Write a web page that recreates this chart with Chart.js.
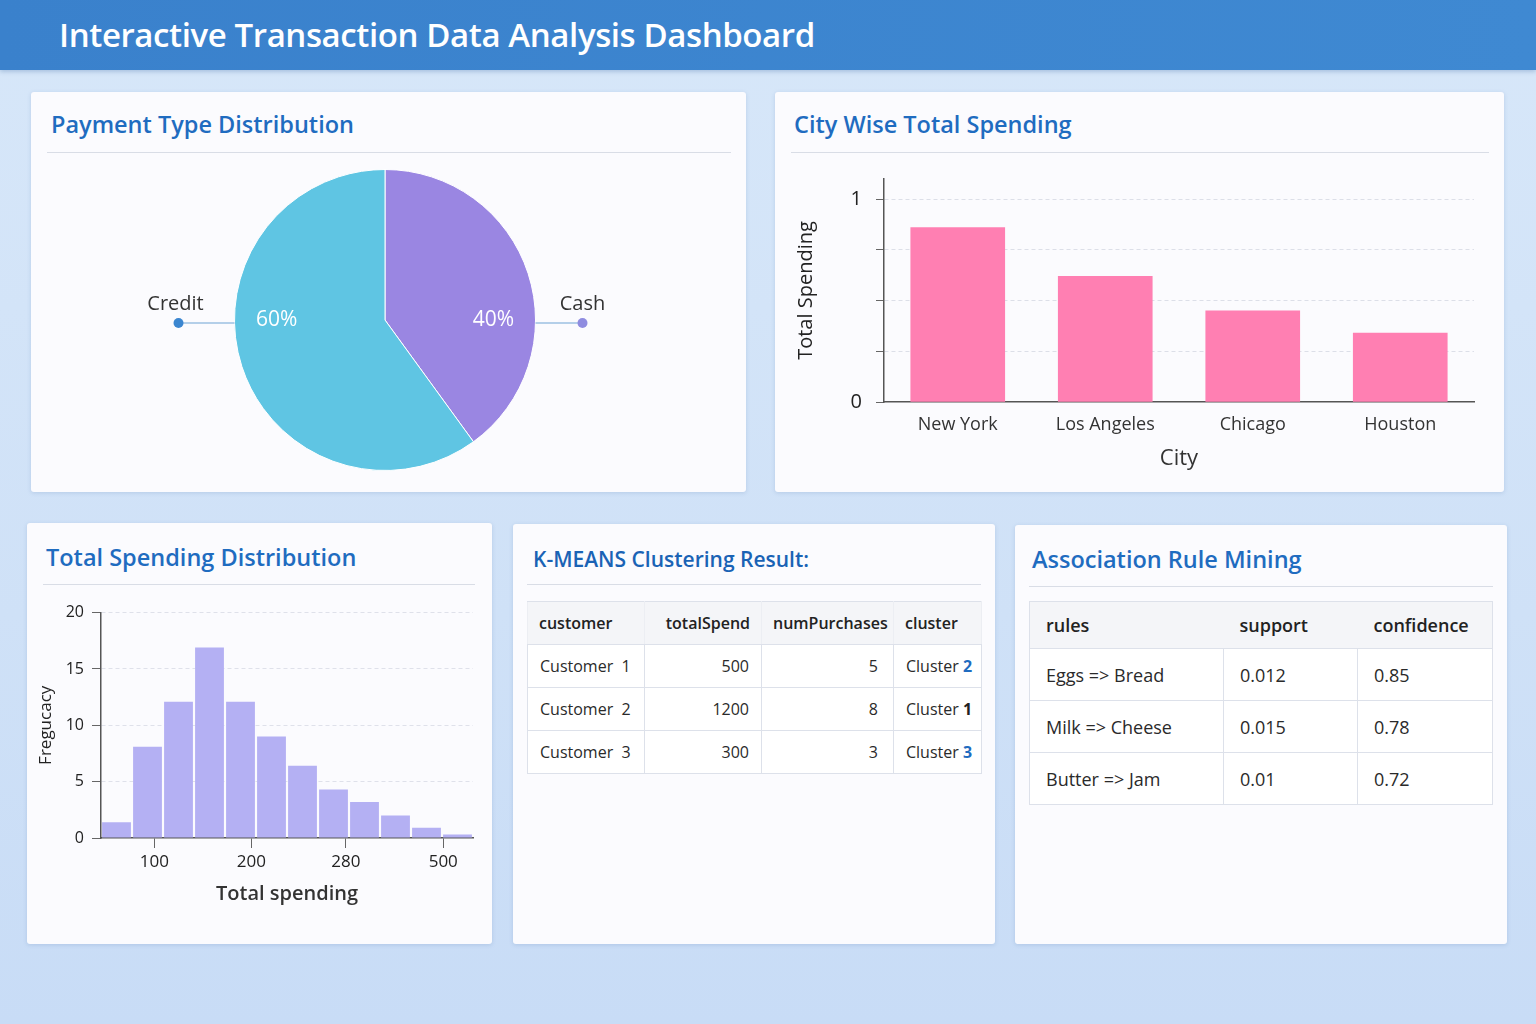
<!DOCTYPE html>
<html lang="en">
<head>
  <meta charset="UTF-8" />
  <title>Interactive Transaction Data Analysis Dashboard</title>
  <script src="https://cdn.jsdelivr.net/npm/chart.js"></script>
  <style>
    body {
      font-family: 'Open Sans', sans-serif;
      margin: 0;
      width: 1536px;
      height: 1024px;
      overflow: hidden;
      position: relative;
      background: linear-gradient(180deg, #d7e7f9 0%, #cfe1f7 60%, #c8dcf6 100%);
    }
    header {
      position: absolute;
      left: 0; top: 0;
      width: 1536px; height: 70px;
      background: linear-gradient(90deg, #3a81cc, #3f89d2);
      box-shadow: 0 2px 4px rgba(40,90,150,0.25);
    }
    header h1 {
      margin: 0;
      position: absolute;
      left: 59px; top: 12px;
      font-size: 33px;
      font-weight: 600;
      color: #fff;
      letter-spacing: -0.4px;
    }
    .card {
      position: absolute;
      background: #fbfbfe;
      border-radius: 3px;
      box-shadow: 0 1px 4px rgba(60,100,160,0.18);
    }
    .card h3 {
      position: absolute;
      margin: 0;
      font-size: 23.5px;
      font-weight: 600;
      color: #1f6cc0;
    }
    .card .rule {
      position: absolute;
      height: 1px;
      background: #d9dde6;
    }
    .card canvas { position: absolute; }
    table {
      position: absolute;
      border-collapse: collapse;
      table-layout: fixed;
      background: #fff;
      color: #2a2a2a;
      white-space: nowrap;
    }
    table, th, td { border: 1.5px solid #dde1ea; }
    th { background: #f4f5f8; font-weight: 600; color: #222; }
    #kmeans { font-size: 16px; }
    #kmeans th { height: 42px; padding: 0 11px; }
    #kmeans td { height: 42px; padding: 0 12px; }
    #kmeans th { border-left-color: #eceef3; border-right-color: #eceef3; }
    #rules { font-size: 18px; }
    #rules th { height: 46px; padding: 0 16px; text-align: left; border-left: none; border-right: none; }
    #rules td { height: 51px; padding: 0 16px; }
    .num { text-align: right; }
    .c2, .c3 { color: #1f6cc0; font-weight: 700; }
    .c1 { color: #222; font-weight: 700; }
  </style>
</head>
<body>

<header>
  <h1>Interactive Transaction Data Analysis Dashboard</h1>
</header>

<!-- Payment type -->
<div class="card" style="left:31px; top:92px; width:715px; height:400px;">
  <h3 style="left:20px; top:16px;">Payment Type Distribution</h3>
  <div class="rule" style="left:16px; top:60px; width:684px;"></div>
  <canvas id="payChart" width="708" height="320" style="left:0; top:68px;"></canvas>
</div>

<!-- City spending -->
<div class="card" style="left:775px; top:92px; width:729px; height:400px;">
  <h3 style="left:19px; top:16px;">City Wise Total Spending</h3>
  <div class="rule" style="left:16px; top:60px; width:698px;"></div>
  <canvas id="cityChart" width="700" height="327" style="left:15px; top:61px;"></canvas>
</div>

<!-- Histogram -->
<div class="card" style="left:27px; top:523px; width:465px; height:421px;">
  <h3 style="left:19px; top:18px;">Total Spending Distribution</h3>
  <div class="rule" style="left:16px; top:61px; width:432px;"></div>
  <canvas id="histChart" width="455" height="313" style="left:3px; top:72px;"></canvas>
</div>

<!-- K-means -->
<div class="card" style="left:513px; top:524px; width:482px; height:420px;">
  <h3 style="left:20px; top:21px; font-size:21px; color:#1a63b5;">K-MEANS Clustering Result:</h3>
  <div class="rule" style="left:14px; top:60px; width:454px;"></div>
</div>
<table id="kmeans" style="left:527px; top:601px; width:454px;">
  <colgroup><col style="width:117px"><col style="width:117px"><col style="width:132px"><col style="width:88px"></colgroup>
  <thead></thead>
  <tbody></tbody>
</table>

<!-- Association rules -->
<div class="card" style="left:1015px; top:525px; width:492px; height:419px;">
  <h3 style="left:17px; top:18px;">Association Rule Mining</h3>
  <div class="rule" style="left:14px; top:61px; width:464px;"></div>
</div>
<table id="rules" style="left:1029px; top:601px; width:463px;">
  <colgroup><col style="width:194px"><col style="width:134px"><col style="width:135px"></colgroup>
  <thead></thead>
  <tbody></tbody>
</table>

<script>
  // ---- data ----
  const payTypes = ['Cash', 'Credit'];
  const payShare = [40, 60];
  const payColors = ['#9a86e2', '#5fc5e3'];
  const payDots = ['#8f8ce0', '#3b86d0'];

  const cities = ['New York', 'Los Angeles', 'Chicago', 'Houston'];
  const citySpend = [0.86, 0.62, 0.45, 0.34];
  const cityTicks = [0, 0.25, 0.5, 0.75, 1];

  const binCenters = [0.5, 1.5, 2.5, 3.5, 4.5, 5.5, 6.5, 7.5, 8.5, 9.5, 10.5, 11.5];
  const binFreq = [1.4, 8.1, 12.1, 16.9, 12.1, 9.0, 6.4, 4.3, 3.2, 2.0, 0.9, 0.3];
  const histTickPos = [1.72, 4.85, 7.9, 11.04];
  const histTickLabels = ['100', '200', '280', '500'];

  const kmHeaders = ['customer', 'totalSpend', 'numPurchases', 'cluster'];
  const kmCustomers = ['Customer\u00a0 1', 'Customer\u00a0 2', 'Customer\u00a0 3'];
  const kmSpend = [500, 1200, 300];
  const kmPurchases = [5, 8, 3];
  const kmCluster = [2, 1, 3];

  const ruleHeaders = ['rules', 'support', 'confidence'];
  const ruleNames = ['Eggs => Bread', 'Milk => Cheese', 'Butter => Jam'];
  const ruleSupport = ['0.012', '0.015', '0.01'];
  const ruleConfidence = ['0.85', '0.78', '0.72'];

  Chart.defaults.font.family = "'Open Sans', sans-serif";
  Chart.defaults.color = '#333';
  Chart.defaults.animation = false;

  // ---- pie ----
  const pieLabels = {
    id: 'pieLabels',
    afterDatasetsDraw(chart) {
      const ctx = chart.ctx;
      const total = payShare.reduce((a, b) => a + b, 0);
      chart.getDatasetMeta(0).data.forEach((arc, i) => {
        const mid = (arc.startAngle + arc.endAngle) / 2;
        const side = Math.cos(mid) >= 0 ? 1 : -1;
        const r = arc.outerRadius;
        ctx.save();
        ctx.textAlign = 'center';
        ctx.textBaseline = 'middle';
        ctx.fillStyle = '#fff';
        ctx.font = "21px 'Open Sans'";
        ctx.fillText(Math.round(payShare[i] / total * 100) + '%', arc.x + side * r * 0.72, arc.y);
        const dotX = arc.x + side * (r + (side < 0 ? 56 : 47));
        const lineY = arc.y + 3;
        ctx.strokeStyle = '#9cc0e2';
        ctx.lineWidth = 1.5;
        ctx.beginPath();
        ctx.moveTo(arc.x + side * r, lineY);
        ctx.lineTo(dotX, lineY);
        ctx.stroke();
        ctx.fillStyle = payDots[i];
        ctx.beginPath();
        ctx.arc(dotX, lineY, 5, 0, Math.PI * 2);
        ctx.fill();
        ctx.fillStyle = '#333';
        ctx.font = "20px 'Open Sans'";
        ctx.fillText(payTypes[i], dotX + (side < 0 ? -3 : 0), arc.y - 16);
        ctx.restore();
      });
    }
  };

  new Chart(document.getElementById('payChart'), {
    type: 'pie',
    data: {
      labels: payTypes,
      datasets: [{
        data: payShare,
        backgroundColor: payColors,
        borderColor: '#ffffff',
        borderWidth: 1
      }]
    },
    options: {
      responsive: false,
      layout: { padding: 9 },
      plugins: { legend: { display: false }, tooltip: { enabled: false } }
    },
    plugins: [pieLabels]
  });

  // ---- city bars ----
  new Chart(document.getElementById('cityChart'), {
    type: 'bar',
    data: {
      labels: cities,
      datasets: [{
        data: citySpend,
        backgroundColor: '#ff7fb2',
        barThickness: 94
      }]
    },
    options: {
      responsive: false,
      layout: { padding: { top: 1, right: 16 } },
      plugins: { legend: { display: false }, tooltip: { enabled: false } },
      scales: {
        y: {
          min: 0, max: 1.1,
          afterBuildTicks: s => { s.ticks = cityTicks.map(v => ({ value: v })); },
          afterFit: s => { s.width = 94; },
          ticks: {
            padding: 14,
            font: { size: 20 },
            color: '#222',
            callback: v => (v === 0 || v === 1) ? String(v) : ''
          },
          grid: {
            color: c => c.tick.value === 0 ? 'rgba(0,0,0,0)' : '#dcdfe8',
            tickColor: '#666',
            tickLength: 8
          },
          border: { color: '#555', width: 1.5, dash: [4, 3] },
          title: { display: true, text: 'Total Spending', font: { size: 20 }, color: '#222' }
        },
        x: {
          afterFit: s => { s.height = 78; },
          grid: { display: false },
          border: { color: '#555', width: 1.5 },
          ticks: { padding: 4, font: { size: 18 }, color: '#333' },
          title: { display: true, text: 'City', font: { size: 22 }, color: '#333', padding: { top: 2, bottom: 8 } }
        }
      }
    }
  });

  // ---- histogram ----
  new Chart(document.getElementById('histChart'), {
    type: 'bar',
    data: {
      datasets: [{
        data: binCenters.map((x, i) => ({ x: x, y: binFreq[i] })),
        backgroundColor: '#b4b0f3',
        barPercentage: 0.93,
        categoryPercentage: 1
      }]
    },
    options: {
      responsive: false,
      layout: { padding: { top: 17, right: 12 } },
      plugins: { legend: { display: false }, tooltip: { enabled: false } },
      scales: {
        x: {
          type: 'linear',
          min: 0, max: 12,
          offset: false,
          afterBuildTicks: s => { s.ticks = histTickPos.map(v => ({ value: v })); },
          afterFit: s => { s.height = 70; },
          ticks: {
            padding: 4,
            font: { size: 17 },
            color: '#222',
            callback: (v, i) => histTickLabels[i]
          },
          grid: { offset: false, drawOnChartArea: false, tickColor: '#666', tickLength: 10 },
          border: { color: '#555', width: 1.5 },
          title: { display: true, text: 'Total spending', font: { size: 20, weight: '600' }, color: '#333', padding: { top: 4, bottom: 2 } }
        },
        y: {
          min: 0, max: 20,
          afterFit: s => { s.width = 71; },
          ticks: { stepSize: 5, padding: 8, font: { size: 16 }, color: '#222' },
          grid: {
            color: c => c.tick.value === 0 ? 'rgba(0,0,0,0)' : '#dfe1ea',
            tickColor: '#666',
            tickLength: 9
          },
          border: { color: '#555', width: 1.5, dash: [4, 3] },
          title: { display: true, text: 'Fregucacy', font: { size: 17 }, color: '#222', padding: { top: 6, bottom: 2 } }
        }
      }
    }
  });

  // ---- tables ----
  const km = document.getElementById('kmeans');
  km.tHead.innerHTML = '<tr>' + kmHeaders.map((h, i) =>
    '<th style="text-align:' + (i === 1 ? 'right' : 'left') + '">' + h + '</th>').join('') + '</tr>';
  km.tBodies[0].innerHTML = kmCustomers.map((c, i) =>
    '<tr><td>' + c + '</td><td class="num">' + kmSpend[i] +
    '</td><td class="num" style="padding-right:15px">' + kmPurchases[i] + '</td><td>Cluster <span class="c' +
    kmCluster[i] + '">' + kmCluster[i] + '</span></td></tr>').join('');

  const rt = document.getElementById('rules');
  rt.tHead.innerHTML = '<tr>' + ruleHeaders.map(h => '<th>' + h + '</th>').join('') + '</tr>';
  rt.tBodies[0].innerHTML = ruleNames.map((r, i) =>
    '<tr><td>' + r + '</td><td>' + ruleSupport[i] +
    '</td><td>' + ruleConfidence[i] + '</td></tr>').join('');
</script>

</body>
</html>
